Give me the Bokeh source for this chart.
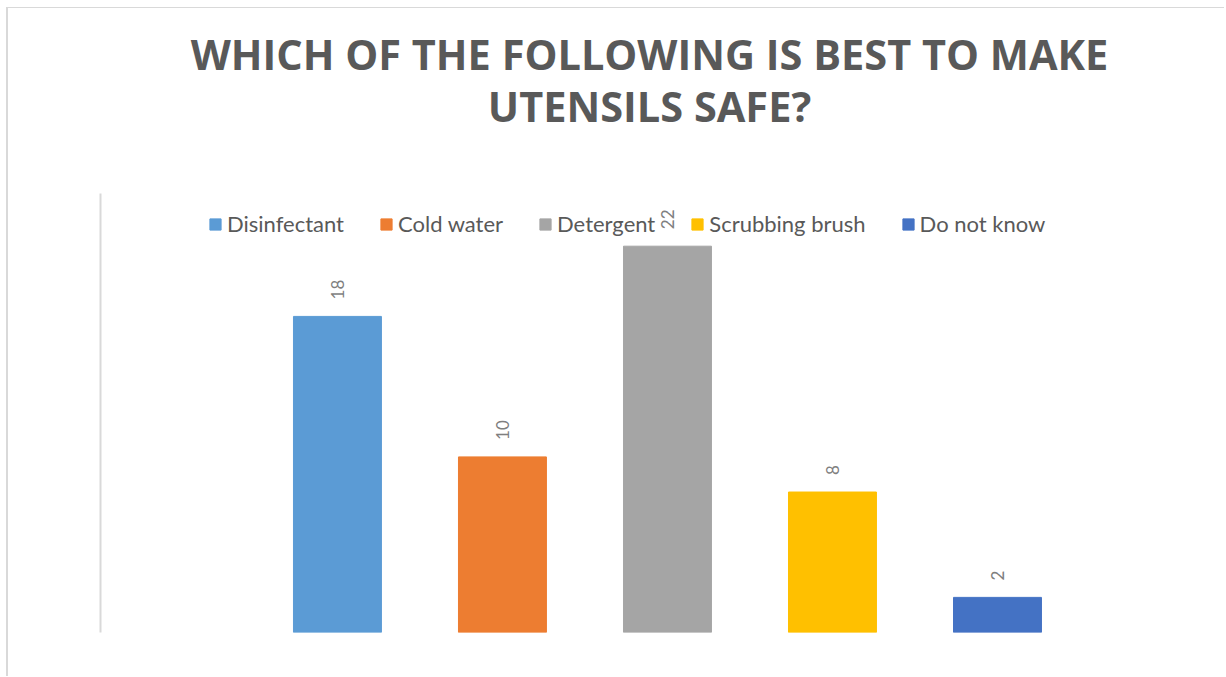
from bokeh.plotting import figure
from bokeh.models import (ColumnDataSource, Range1d, Label, Legend, LegendItem,
                          FixedTicker)
from bokeh.core.properties import value
from bokeh.embed import file_html
from bokeh.resources import INLINE
import math

# Survey answers
categories = ["Disinfectant", "Cold water", "Detergent", "Scrubbing brush", "Do not know"]
counts = [18, 10, 22, 8, 2]
colors = ["#5B9BD5", "#ED7D31", "#A5A5A5", "#FFC000", "#4472C4"]

title_lines = ["WHICH OF THE FOLLOWING IS BEST TO MAKE", "UTENSILS SAFE?"]
axis_max = 25

source = ColumnDataSource(dict(
    x=list(range(len(categories))),
    cat=categories,
    count=counts,
    color=colors,
    label=[str(c) for c in counts],
))

# the frame runs up to the top so the heading can live inside it;
# the value axis itself only spans 0..axis_max
p = figure(width=1218, height=669, output_backend="svg", toolbar_location=None,
           x_range=Range1d(-1.436, 5.194), y_range=Range1d(0, 35.535),
           min_border_left=92, min_border_right=32, min_border_bottom=45,
           min_border_top=0, outline_line_color=None,
           background_fill_color="white", border_fill_color="white")
# light frame around the whole chart area
p.styles = {"margin-left": "6px", "margin-top": "7px",
            "border-left": "2px solid #d9d9d9", "border-top": "1px solid #d9d9d9"}

p.grid.visible = False
p.xaxis.visible = False
p.yaxis.ticker = FixedTicker(ticks=[])
p.yaxis.bounds = (0, axis_max)
p.yaxis.major_tick_line_color = None
p.yaxis.minor_tick_line_color = None
p.yaxis.axis_line_color = "#d9d9d9"
p.yaxis.axis_line_width = 2

bars = p.vbar(x="x", top="count", width=0.533, color="color", source=source)

# value labels rotated along the bar direction
p.text(x="x", y="count", text="label", source=source, angle=math.pi / 2,
       text_align="left", text_baseline="middle", y_offset=-17,
       text_font=value("Lato"), text_font_size="17px", text_color="#7f7f7f")

legend = Legend(items=[LegendItem(label=c, renderers=[bars], index=i)
                       for i, c in enumerate(categories)],
                orientation="horizontal", location=(108, 395),
                padding=0, margin=0, spacing=35, label_standoff=5,
                glyph_width=14, glyph_height=14,
                label_text_font="Lato", label_text_font_size="22px",
                label_text_color="#595959",
                border_line_alpha=0, background_fill_alpha=0)
p.add_layout(legend, "center")

# two-line heading, placed in pixels from the frame's lower left corner
for line, base in zip(title_lines, [579, 527]):
    p.add_layout(Label(x=549, y=base, x_units="screen", y_units="screen",
                       text=line, text_align="center", text_baseline="alphabetic",
                       text_font="Open Sans", text_font_size="41.5px",
                       text_font_style="bold", text_color="#595959"))

open("out.html", "w").write(file_html(p, INLINE))
